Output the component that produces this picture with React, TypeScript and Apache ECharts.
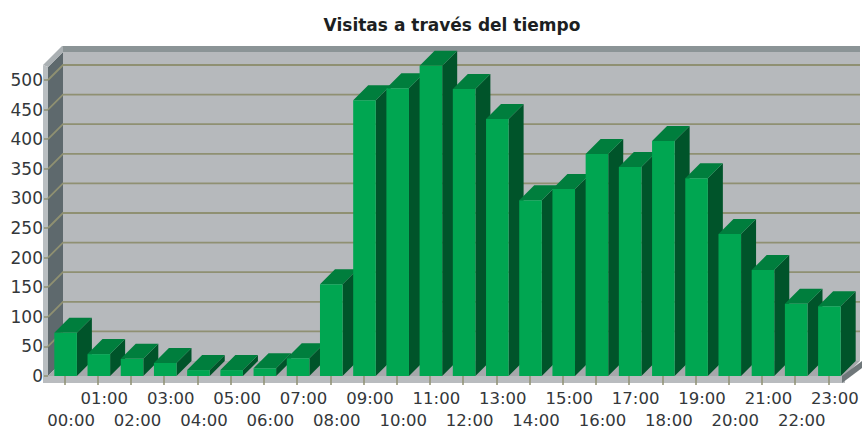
import React, { useEffect, useRef } from "react";
import * as echarts from "echarts";

const hours = ["00:00","01:00","02:00","03:00","04:00","05:00","06:00","07:00","08:00","09:00","10:00","11:00","12:00","13:00","14:00","15:00","16:00","17:00","18:00","19:00","20:00","21:00","22:00","23:00"];
const visits = [73,37,29,22,10,10,13,30,155,466,486,524,485,434,297,316,375,353,397,334,240,179,122,118];
const gridValues = [50,100,150,200,250,300,350,400,450,500];
const wallTop = 522;

const DX = 15;
const DY = -15;
const FONT = "'DejaVu Sans', sans-serif";
const GRID_COLOR = "#8f9072";

export default function App() {
  const ref = useRef<HTMLDivElement>(null);
  useEffect(() => {
    const chart = echarts.init(ref.current!, undefined, { renderer: "svg" });
    const labelBase = { fontFamily: FONT, fontSize: 16.5, color: "#33373a", padding: [0, 0, 0, 13] };
    chart.setOption({
      animation: false,
      backgroundColor: "#ffffff",
      title: {
        text: "Visitas a través del tiempo",
        left: 447,
        top: 11,
        textAlign: "center",
        textStyle: { fontFamily: FONT, fontSize: 17, fontWeight: "bold", color: "#1c1f22" },
      },
      grid: { left: 48, right: 17, top: 50.4, bottom: 54, outerBoundsMode: "none" },
      xAxis: [
        {
          type: "category",
          z: 10,
          data: hours,
          axisLine: { show: false },
          axisTick: { show: true, interval: 0, alignWithLabel: true, length: 9, lineStyle: { color: GRID_COLOR, width: 1.5 } },
          axisLabel: { ...labelBase, margin: 14, interval: (i: number) => i % 2 === 1 },
          splitLine: { show: false },
        },
        {
          type: "category",
          position: "bottom",
          data: hours,
          axisLine: { show: false },
          axisTick: { show: false },
          axisLabel: { ...labelBase, margin: 36, interval: (i: number) => i % 2 === 0 },
          splitLine: { show: false },
        },
      ],
      yAxis: {
        type: "value",
        z: 10,
        min: 0,
        max: 550,
        interval: 50,
        axisLine: { show: false },
        axisTick: { show: true, length: 4, lineStyle: { color: GRID_COLOR, width: 1.5 } },
        axisLabel: { showMaxLabel: false, margin: 5, fontFamily: FONT, fontSize: 17, color: "#33373a" },
        splitLine: { show: false },
      },
      series: [
        {
          type: "custom",
          silent: true,
          z: 1,
          data: [0],
          renderItem: (params: any, api: any) => {
            const y0 = api.coord([0, 0])[1];
            const c = params.coordSys;
            const x1 = c.x + c.width;
            const left = c.x;
            const top = api.coord([0, wallTop])[1];
            const poly = (points: number[][], fill: string) => ({ type: "polygon", shape: { points }, style: { fill } });
            return {
              type: "group",
              children: [
                poly([[left + DX, top + DY], [x1 + DX, top + DY], [x1 + DX, y0 + DY], [left + DX, y0 + DY]], "#b6b9bc"),
                poly([[left + DX, top + DY - 6], [x1 + DX, top + DY - 6], [x1 + DX, top + DY], [left + DX, top + DY]], "#8b9496"),
                poly([[left, top], [left + DX, top + DY], [left + DX, y0 + DY], [left, y0]], "#5e696d"),
                poly([[left - 5, top - 2], [left + DX - 1, top + DY - 6], [left + DX, top + DY - 6], [left + DX, top + DY], [left, top]], "#aab0b3"),
                poly([[left, y0], [left + DX, y0 + DY], [x1 + DX, y0 + DY], [x1, y0]], "#a6a8ab"),
                poly([[left - 5, top - 2], [left, top], [left, y0 + 7], [left - 5, y0 + 7]], "#b9bec1"),
                poly([[left - 5, y0], [x1, y0], [x1, y0 + 7], [left - 5, y0 + 7]], "#b9bcbf"),
                poly([[x1 - 3, y0], [x1 + DX + 2, y0 + DY], [x1 + DX + 2, y0 + DY + 7], [x1 - 3, y0 + 7]], "#6f777a"),
              ],
            };
          },
        },
        {
          type: "custom",
          silent: true,
          z: 2,
          data: gridValues,
          encode: { y: 0 },
          renderItem: (params: any, api: any) => {
            const v = api.value(0);
            const c = params.coordSys;
            const y = api.coord([0, v])[1];
            return {
              type: "polyline",
              shape: { points: [[c.x, y], [c.x + DX, y + DY], [c.x + c.width + DX, y + DY]] },
              style: { fill: "none", stroke: GRID_COLOR, lineWidth: 1.8 },
            };
          },
        },
        {
          type: "custom",
          silent: true,
          z: 3,
          data: visits.map((v, i) => [i, v]),
          encode: { x: 0, y: 1 },
          renderItem: (_params: any, api: any) => {
            const [cx, yTop] = api.coord([api.value(0), api.value(1)]);
            const yBase = api.coord([api.value(0), 0])[1];
            const band = api.size([1, 0])[0];
            const w = band * 0.68;
            const l = cx - w / 2 + 1;
            const r = l + w;
            const poly = (points: number[][], fill: string) => ({ type: "polygon", shape: { points }, style: { fill } });
            return {
              type: "group",
              children: [
                poly([[r, yTop], [r + DX, yTop + DY], [r + DX, yBase + DY], [r, yBase]], "#00542a"),
                poly([[l, yTop], [l + DX, yTop + DY], [r + DX, yTop + DY], [r, yTop]], "#007e3d"),
                poly([[l, yTop], [r, yTop], [r, yBase], [l, yBase]], "#00a651"),
              ],
            };
          },
        },
      ],
    });
    return () => chart.dispose();
  }, []);
  return <div ref={ref} style={{ position: "fixed", left: 0, top: 0, width: 862, height: 430 }} />;
}
